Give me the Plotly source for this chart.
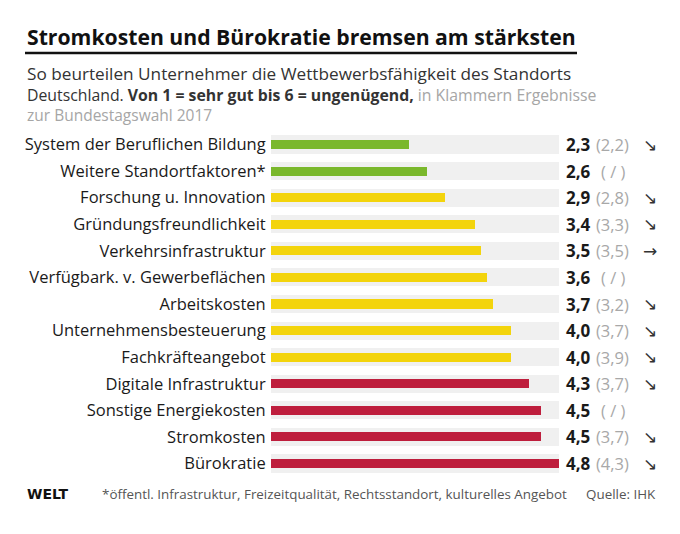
import plotly.graph_objects as go

categories = [
    "System der Beruflichen Bildung",
    "Weitere Standortfaktoren*",
    "Forschung u. Innovation",
    "Gründungsfreundlichkeit",
    "Verkehrsinfrastruktur",
    "Verfügbark. v. Gewerbeflächen",
    "Arbeitskosten",
    "Unternehmensbesteuerung",
    "Fachkräfteangebot",
    "Digitale Infrastruktur",
    "Sonstige Energiekosten",
    "Stromkosten",
    "Bürokratie",
]
values = [2.3, 2.6, 2.9, 3.4, 3.5, 3.6, 3.7, 4.0, 4.0, 4.3, 4.5, 4.5, 4.8]
previous = ["2,2", "/", "2,8", "3,3", "3,5", "/", "3,2", "3,7", "3,9", "3,7", "/", "3,7", "4,3"]
trend = ["↘", "", "↘", "↘", "→", "", "↘", "↘", "↘", "↘", "", "↘", "↘"]
group = ["gut", "gut", "mittel", "mittel", "mittel", "mittel", "mittel", "mittel", "mittel",
         "schlecht", "schlecht", "schlecht", "schlecht"]
scale_max = 4.8

palette = {"gut": "#7ab82c", "mittel": "#f3d40c", "schlecht": "#be1e3d"}
FONT = "Open Sans"

# page has an 8px body margin: figure is 8px smaller than window
W, H = 672, 526
L, T, PW, PH = 263, 123, 288, 346


def px(x):
    return (x - 271) / PW


def py(y):
    return 1 - (y - 131) / PH


fig = go.Figure()
fig.add_trace(go.Bar(
    y=categories, x=[scale_max] * len(categories), orientation="h",
    marker=dict(color="#f0f0f0", line=dict(width=0)), width=0.68,
    hoverinfo="skip", showlegend=False,
))
fig.add_trace(go.Bar(
    y=categories, x=values, orientation="h",
    marker=dict(color=[palette[g] for g in group], line=dict(width=0)), width=0.34,
    showlegend=False,
))

annotations = []
for cat, v, p, t in zip(categories, values, previous, trend):
    vtxt = f"{v:.1f}".replace(".", ",")
    annotations.append(dict(xref="paper", yref="y", x=1, xshift=5, y=cat, xanchor="left",
                            yanchor="middle", showarrow=False, text=f"<b>{vtxt}</b>",
                            font=dict(family=FONT, size=17, color="#1a1a1a")))
    ptxt = f"({p})" if p != "/" else "( / )"
    pshift = 35 if p != "/" else 40
    annotations.append(dict(xref="paper", yref="y", x=1, xshift=pshift, y=cat, xanchor="left",
                            yanchor="middle", showarrow=False, text=ptxt,
                            font=dict(family=FONT, size=16.5, color="#a8a8a8")))
    if t:
        annotations.append(dict(xref="paper", yref="y", x=1, xshift=82, y=cat, xanchor="left",
                                yanchor="middle", showarrow=False, text=t,
                                font=dict(family="DejaVu Sans", size=17, color="#333333")))

annotations += [
    dict(xref="paper", yref="paper", x=px(25), y=py(36), xanchor="left",
         yanchor="middle", showarrow=False,
         text="<b>Stromkosten und Bürokratie bremsen am stärksten</b>",
         font=dict(family=FONT, size=21.2, color="#111111")),
    dict(xref="paper", yref="paper", x=px(25), y=py(74), xanchor="left",
         yanchor="middle", showarrow=False,
         text="So beurteilen Unternehmer die Wettbewerbsfähigkeit des Standorts",
         font=dict(family=FONT, size=17.2, color="#333333")),
    dict(xref="paper", yref="paper", x=px(25), y=py(95), xanchor="left",
         yanchor="middle", showarrow=False,
         text="Deutschland. <b>Von 1 = sehr gut bis 6 = ungenügend,</b> "
              "<span style='color:#a6a6a6'>in Klammern Ergebnisse</span>",
         font=dict(family=FONT, size=15.8, color="#333333")),
    dict(xref="paper", yref="paper", x=px(25), y=py(115), xanchor="left",
         yanchor="middle", showarrow=False,
         text="zur Bundestagswahl 2017",
         font=dict(family=FONT, size=15.5, color="#a6a6a6")),
    dict(xref="paper", yref="paper", x=px(25), y=py(494), xanchor="left",
         yanchor="middle", showarrow=False, text="<b>WELT</b>",
         font=dict(family="DejaVu Sans", size=14, color="#111111")),
    dict(xref="paper", yref="paper", x=px(100), y=py(494), xanchor="left",
         yanchor="middle", showarrow=False,
         text="*öffentl. Infrastruktur, Freizeitqualität, Rechtsstandort, kulturelles Angebot",
         font=dict(family=FONT, size=13.4, color="#555555")),
    dict(xref="paper", yref="paper", x=px(584), y=py(494), xanchor="left",
         yanchor="middle", showarrow=False, text="Quelle: IHK",
         font=dict(family=FONT, size=13.4, color="#555555")),
]

fig.update_layout(
    width=W, height=H,
    margin=dict(l=L, r=W - L - PW, t=T, b=H - T - PH, autoexpand=False),
    paper_bgcolor="white", plot_bgcolor="white",
    barmode="overlay", bargap=0,
    xaxis=dict(range=[0, scale_max], visible=False, fixedrange=True),
    yaxis=dict(autorange="reversed", showgrid=False, zeroline=False, showline=False,
               ticks="outside", ticklen=1, tickcolor="rgba(0,0,0,0)", automargin=False,
               tickfont=dict(family=FONT, size=16.5, color="#1a1a1a")),
    annotations=annotations,
    shapes=[dict(type="line", xref="paper", yref="paper",
                 x0=px(25), x1=px(577), y0=py(53), y1=py(53),
                 line=dict(color="#111111", width=2.5))],
    showlegend=False,
)

fig.write_html("out.html")
